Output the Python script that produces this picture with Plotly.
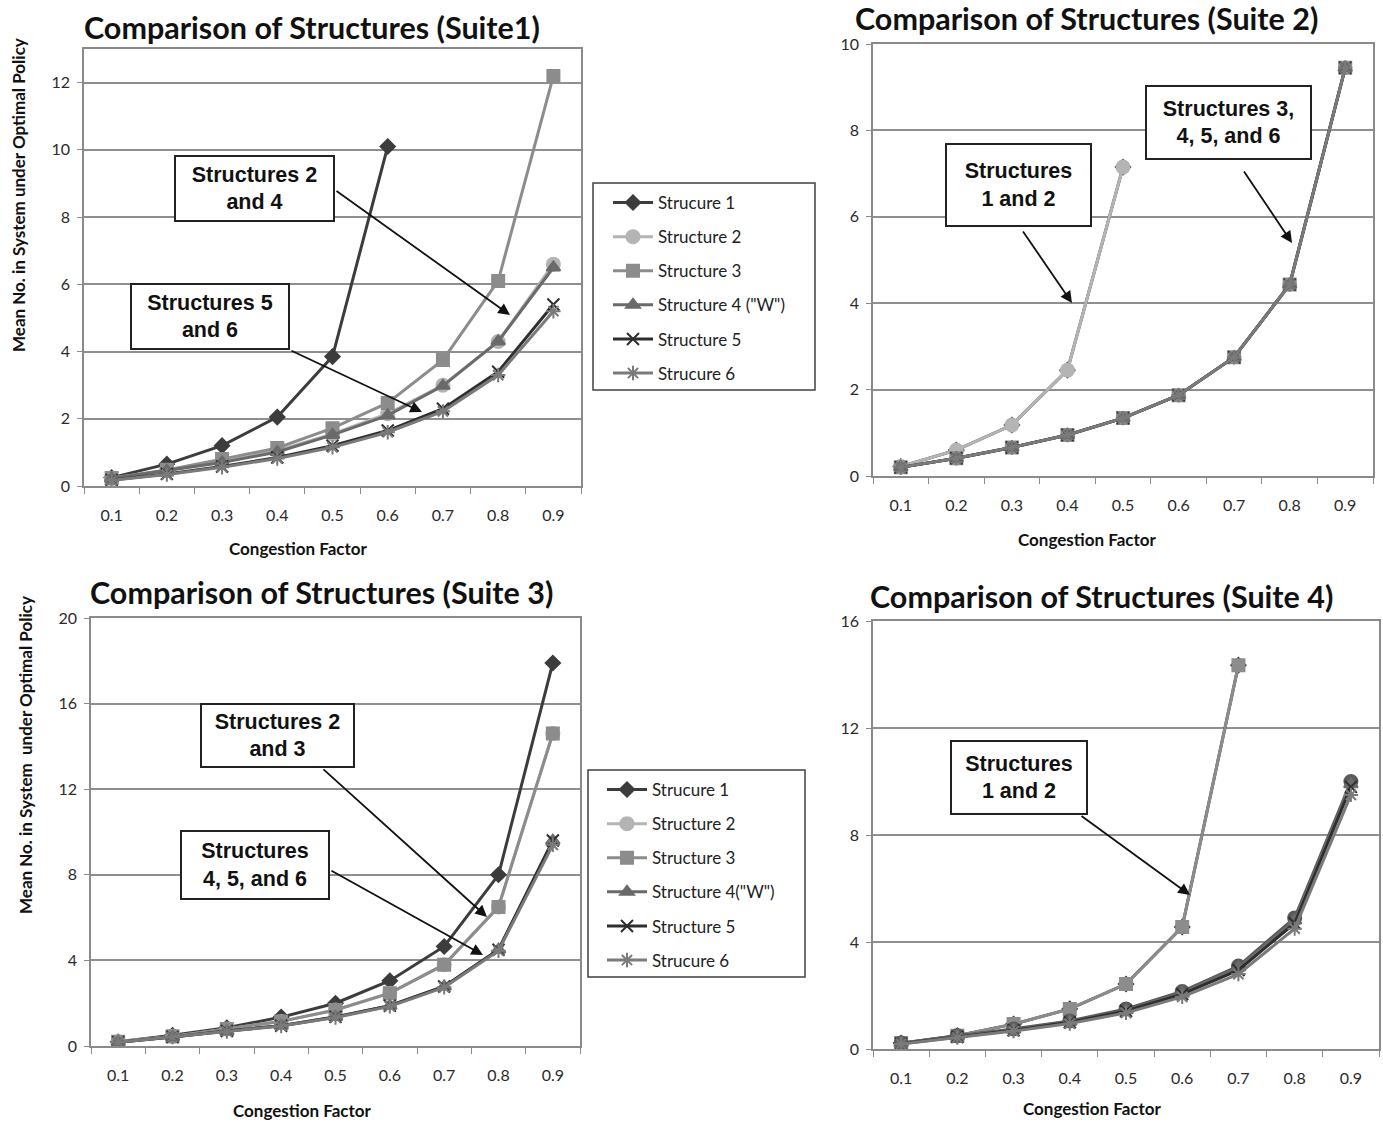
import plotly.graph_objects as go

W, H = 1383, 1122

categories = ["0.1", "0.2", "0.3", "0.4", "0.5", "0.6", "0.7", "0.8", "0.9"]
names_a = ["Strucure 1", "Structure 2", "Structure 3", 'Structure 4 ("W")', "Structure 5", "Strucure 6"]
names_b = ["Strucure 1", "Structure 2", "Structure 3", 'Structure 4("W")', "Structure 5", "Strucure 6"]

# Suite 1
s1_1 = [0.25, 0.65, 1.2, 2.05, 3.85, 10.1, None, None, None]
s1_2 = [0.22, 0.46, 0.72, 1.05, 1.55, 2.15, 3.0, 4.3, 6.6]
s1_3 = [0.24, 0.48, 0.8, 1.13, 1.72, 2.47, 3.75, 6.1, 12.2]
s1_4 = [0.22, 0.45, 0.7, 1.01, 1.52, 2.1, 2.98, 4.3, 6.5]
s1_5 = [0.18, 0.36, 0.58, 0.85, 1.2, 1.65, 2.3, 3.4, 5.4]
s1_6 = [0.17, 0.34, 0.56, 0.82, 1.15, 1.6, 2.22, 3.3, 5.2]

# Suite 2
s2_1 = [0.22, 0.6, 1.18, 2.45, 7.15, None, None, None, None]
s2_2 = [0.22, 0.6, 1.18, 2.45, 7.15, None, None, None, None]
s2_3 = [0.2, 0.41, 0.66, 0.95, 1.34, 1.87, 2.75, 4.43, 9.45]
s2_4 = [0.2, 0.41, 0.66, 0.95, 1.34, 1.87, 2.75, 4.43, 9.45]
s2_5 = [0.2, 0.41, 0.66, 0.95, 1.34, 1.87, 2.75, 4.43, 9.45]
s2_6 = [0.2, 0.41, 0.66, 0.95, 1.34, 1.87, 2.75, 4.43, 9.45]

# Suite 3
s3_1 = [0.2, 0.5, 0.85, 1.35, 2.0, 3.05, 4.65, 8.0, 17.9]
s3_2 = [0.2, 0.45, 0.8, 1.15, 1.68, 2.47, 3.8, 6.5, 14.6]
s3_3 = [0.2, 0.45, 0.8, 1.15, 1.68, 2.47, 3.8, 6.5, 14.6]
s3_4 = [0.18, 0.42, 0.7, 0.95, 1.36, 1.88, 2.78, 4.5, 9.6]
s3_5 = [0.18, 0.42, 0.7, 0.95, 1.36, 1.88, 2.78, 4.5, 9.6]
s3_6 = [0.18, 0.42, 0.68, 0.93, 1.33, 1.85, 2.74, 4.45, 9.4]

# Suite 4
s4_1 = [0.22, 0.5, 0.93, 1.5, 2.43, 4.56, 14.35, None, None]
s4_2 = [0.22, 0.5, 0.93, 1.5, 2.43, 4.56, 14.35, None, None]
s4_3 = [0.22, 0.5, 0.75, 1.05, 1.5, 2.15, 3.1, 4.9, 10.0]
s4_4 = [0.21, 0.48, 0.72, 1.02, 1.45, 2.1, 3.05, 4.8, 9.9]
s4_5 = [0.2, 0.45, 0.7, 1.0, 1.42, 2.05, 2.95, 4.7, 9.8]
s4_6 = [0.19, 0.43, 0.67, 0.95, 1.35, 1.95, 2.8, 4.5, 9.5]

colors = ["#3c3c3c", "#b4b4b4", "#8c8c8c", "#6a6a6a", "#2e2e2e", "#7a7a7a"]
symbols = ["diamond", "circle", "square", "triangle-up", "x-thin-open", "asterisk-open"]
msizes = [11, 13, 12, 12, 12, 12]

FONT = "Lato"


def px(x):
    return x / W


def py(y):
    return 1 - y / H


fig = go.Figure()

panels = [
    dict(data=[s1_1, s1_2, s1_3, s1_4, s1_5, s1_6], names=names_a, xa="x", ya="y", legend="legend",
         show=True, styles=[0, 1, 2, 3, 4, 5]),
    dict(data=[s2_1, s2_2, s2_3, s2_4, s2_5, s2_6], names=names_a, xa="x2", ya="y2", legend="legend",
         show=False, styles=[0, 1, 2, 3, 4, 5]),
    dict(data=[s3_1, s3_2, s3_3, s3_4, s3_5, s3_6], names=names_b, xa="x3", ya="y3", legend="legend2",
         show=True, styles=[0, 1, 2, 3, 4, 5]),
    dict(data=[s4_1, s4_2, s4_3, s4_4, s4_5, s4_6], names=names_a, xa="x4", ya="y4", legend="legend",
         show=False, styles=[0, 2, 1, 3, 4, 5]),
]

for p in panels:
    for i, (vals, nm) in enumerate(zip(p["data"], p["names"])):
        st = p["styles"][i]
        col = colors[st]
        if p["xa"] == "x4" and i == 2:
            col = "#5a5a5a"
        fig.add_trace(go.Scatter(
            x=categories, y=vals, name=nm, mode="lines+markers",
            line=dict(color=col, width=3),
            marker=dict(symbol=symbols[st], size=msizes[st], color=col,
                        line=dict(color=col, width=2)),
            xaxis=p["xa"], yaxis=p["ya"], legend=p["legend"],
            showlegend=p["show"], legendgroup=p["xa"] + str(i),
            connectgaps=False,
        ))

# axes layout (pixel boxes)
boxes = {
    "1": (84, 581, 49, 486, [0, 13], 2),
    "2": (873, 1373, 44, 476, [0, 10], 2),
    "3": (91, 580, 618, 1046, [0, 20], 4),
    "4": (873, 1379, 621, 1049, [0, 16], 4),
}

tickfont = dict(family=FONT, size=16, color="#2a2a2a")
for k, (l, r, t, b, yr, dt) in boxes.items():
    xs = "xaxis" if k == "1" else "xaxis" + k
    ys = "yaxis" if k == "1" else "yaxis" + k
    yid = "y" if k == "1" else "y" + k
    xid = "x" if k == "1" else "x" + k
    fig.layout[xs] = dict(
        domain=[px(l), px(r)], anchor=yid, type="category", range=[-0.5, 8.5],
        tickson="boundaries", ticks="outside", ticklen=6, tickcolor="#8a8a8a",
        showline=True, linecolor="#8a8a8a", linewidth=1.5, mirror=True,
        showgrid=False, tickfont=tickfont, fixedrange=True, automargin=False,
        ticklabelstandoff=14,
    )
    fig.layout[ys] = dict(
        domain=[py(b), py(t)], anchor=xid, range=yr, dtick=dt, tick0=0,
        ticks="outside", ticklen=5, tickcolor="#8a8a8a",
        showline=True, linecolor="#8a8a8a", linewidth=1.5, mirror=True,
        showgrid=True, gridcolor="#8f8f8f", gridwidth=1.5,
        tickfont=tickfont, zeroline=False, fixedrange=True, automargin=False,
        ticklabelstandoff=4,
    )

legend_common = dict(
    bgcolor="rgba(0,0,0,0)", borderwidth=0,
    font=dict(family=FONT, size=17, color="#222"), itemwidth=40,
    tracegroupgap=9, traceorder="grouped", xanchor="left", yanchor="top",
)
fig.layout.legend = dict(x=px(608), y=py(185), **legend_common)
fig.layout.legend2 = dict(x=px(602), y=py(772), **legend_common)

shapes = [
    dict(type="rect", xref="paper", yref="paper", x0=px(593), x1=px(815), y0=py(390), y1=py(183),
         line=dict(color="#404040", width=1.5), fillcolor="white", layer="below"),
    dict(type="rect", xref="paper", yref="paper", x0=px(588), x1=px(805), y0=py(977), y1=py(770),
         line=dict(color="#404040", width=1.5), fillcolor="white", layer="below"),
]

annotations = []
titles = [
    ("Comparison of Structures (Suite1)", 82, 27),
    ("Comparison of Structures (Suite 2)", 853, 18),
    ("Comparison of Structures (Suite 3)", 88, 592),
    ("Comparison of Structures (Suite 4)", 868, 596),
]
for txt, x, y in titles:
    annotations.append(dict(text="<b>" + txt + "</b>", x=px(x), y=py(y), xref="paper", yref="paper",
                            xanchor="left", yanchor="middle", showarrow=False,
                            font=dict(family=FONT, size=30.5, color="#111")))

axis_titles = [
    ("Congestion Factor", 298, 548, 0),
    ("Congestion Factor", 1087, 540, 0),
    ("Congestion Factor", 302, 1110, 0),
    ("Congestion Factor", 1092, 1108, 0),
    ("Mean No. in System under Optimal Policy", 18, 195, -90),
    ("Mean No. in System  under Optimal Policy", 25, 755, -90),
]
for txt, x, y, ang in axis_titles:
    annotations.append(dict(text="<b>" + txt.replace("  ", "&nbsp; ") + "</b>", x=px(x), y=py(y),
                            xref="paper", yref="paper", xanchor="center", yanchor="middle",
                            showarrow=False, textangle=ang,
                            font=dict(family=FONT, size=17, color="#111")))

boxes_txt = [
    ("Structures 2<br>and 4", 174, 335, 155, 222),
    ("Structures 5<br>and 6", 130, 290, 283, 350),
    ("Structures<br>1 and 2", 945, 1092, 143, 227),
    ("Structures 3,<br>4, 5, and 6", 1145, 1312, 85, 160),
    ("Structures 2<br>and 3", 200, 355, 703, 768),
    ("Structures<br>4, 5, and 6", 180, 330, 830, 900),
    ("Structures<br>1 and 2", 950, 1088, 740, 815),
]
for txt, l, r, t, b in boxes_txt:
    annotations.append(dict(text="<b>" + txt + "</b>", x=px((l + r) / 2), y=py((t + b) / 2),
                            xref="paper", yref="paper", xanchor="center", yanchor="middle",
                            showarrow=False, width=r - l - 6, height=b - t - 6,
                            bordercolor="#222", borderwidth=2, bgcolor="white", borderpad=1,
                            font=dict(family="Liberation Sans", size=21.5, color="#111")))

arrows = [
    (335, 190, 510, 315),
    (290, 350, 422, 412),
    (1022, 230, 1072, 303),
    (1243, 170, 1292, 243),
    (322, 768, 487, 917),
    (330, 870, 483, 955),
    (1080, 815, 1190, 895),
]
for x0, y0, x1, y1 in arrows:
    annotations.append(dict(text="", x=px(x1), y=py(y1), xref="paper", yref="paper",
                            ax=x0 - x1, ay=y0 - y1, showarrow=True, arrowhead=2,
                            arrowsize=1.3, arrowwidth=1.8, arrowcolor="#111", standoff=0))

fig.update_layout(
    width=W, height=H, autosize=False,
    margin=dict(l=0, r=0, t=0, b=0),
    paper_bgcolor="white", plot_bgcolor="white",
    annotations=annotations, shapes=shapes,
    font=dict(family=FONT),
)

fig.write_html("out.html", config={"displayModeBar": False},
               post_script="document.body.style.margin='0';document.body.style.overflow='hidden';")
